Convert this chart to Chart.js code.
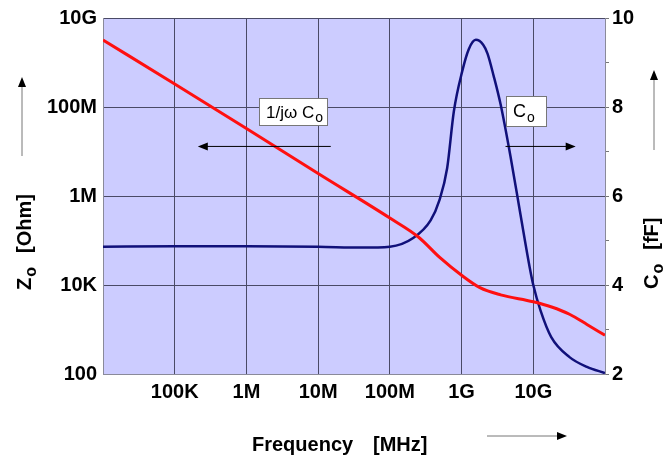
<!DOCTYPE html>
<html lang="en">
<head>
    <meta charset="UTF-8">
    <title>Zo and Co vs frequency</title>
    <script src="https://cdn.jsdelivr.net/npm/chart.js"></script>
    <style>
        body { margin: 0; background: #fff; }
        #wrap { width: 666px; height: 459px; position: relative; }
    </style>
</head>
<body>
    <div id="wrap"><canvas id="zc-chart"></canvas></div>
    <script>
        // Frequency axis (MHz), log decades
        var freqTicks = [1e4, 1e5, 1e6, 1e7, 1e8, 1e9, 1e10, 1e11];
        var freqLabels = ['', '100K', '1M', '10M', '100M', '1G', '10G', ''];

        // Left axis: Zo [Ohm]
        var zTicks = [1e2, 1e4, 1e6, 1e8, 1e10];
        var zLabels = ['100', '10K', '1M', '100M', '10G'];

        // Right axis: Co [fF]
        var cTicks = [2, 3, 4, 5, 6, 7, 8, 9, 10];
        var cLabels = ['2', '', '4', '', '6', '', '8', '', '10'];

        // Red curve: impedance 1/jwCo
        var zFreq = [1e4, 1e5, 1e6, 1e7, 1e8, 2.5e8, 5e8, 1e9, 1.8e9, 3.5e9, 1e10, 1.8e10, 3.2e10, 5.6e10, 1e11];
        var zOhm = [3.2e9, 3.3e8, 3.3e7, 3.2e6, 3.2e5, 1.2e5, 4.1e4, 1.65e4, 8.7e3, 6.0e3, 4.2e3, 3.2e3, 2.2e3, 1.3e3, 740];

        // Blue curve: capacitance Co
        var cFreq = [1e4, 1e5, 1e6, 1e7, 4e7, 1e8, 2.14e8, 3.7e8, 4.9e8, 6.3e8, 7.8e8, 1.02e9, 1.26e9, 1.58e9,
                     2.0e9, 2.3e9, 2.8e9, 3.5e9, 4.8e9, 6.6e9, 8.9e9, 1e10, 1.26e10, 1.78e10, 3.2e10, 5.6e10, 1e11];
        var cFemto = [4.86, 4.87, 4.87, 4.86, 4.84, 4.86, 5.06, 5.45, 5.9, 6.63, 7.9, 8.8, 9.3, 9.51,
                      9.4, 9.2, 8.7, 8.06, 6.9, 5.6, 4.4, 4.0, 3.43, 2.83, 2.38, 2.16, 2.02];

        var FAM = "'Liberation Sans', Arial, sans-serif";
        var gridColor = '#4a4a66';
        var edgeColor = '#8a8a9a';

        function pairs(xs, ys) {
            return xs.map(function(x, i) { return { x: x, y: ys[i] }; });
        }

        function arrow(ctx, x1, y1, x2, y2) {
            var a = Math.atan2(y2 - y1, x2 - x1);
            ctx.beginPath();
            ctx.moveTo(x1, y1);
            ctx.lineTo(x2 - 8 * Math.cos(a), y2 - 8 * Math.sin(a));
            ctx.stroke();
            ctx.beginPath();
            ctx.moveTo(x2, y2);
            ctx.lineTo(x2 - 10 * Math.cos(a) + 4 * Math.sin(a), y2 - 10 * Math.sin(a) - 4 * Math.cos(a));
            ctx.lineTo(x2 - 10 * Math.cos(a) - 4 * Math.sin(a), y2 - 10 * Math.sin(a) + 4 * Math.cos(a));
            ctx.closePath();
            ctx.fill();
        }

        // text with a subscript part, drawn left to right from x
        function subText(ctx, x, y, main, sub, size, weight) {
            ctx.font = weight + ' ' + size + 'px ' + FAM;
            ctx.fillText(main, x, y);
            var w = ctx.measureText(main).width;
            ctx.font = weight + ' ' + Math.round(size * 0.8) + 'px ' + FAM;
            ctx.fillText(sub, x + w + 1, y + size * 0.25);
            return x + w + 1 + ctx.measureText(sub).width;
        }

        var plotBg = {
            id: 'plotBg',
            beforeDraw: function(chart) {
                var a = chart.chartArea, ctx = chart.ctx;
                ctx.save();
                ctx.fillStyle = '#ccccff';
                ctx.fillRect(a.left, a.top, a.right - a.left, a.bottom - a.top);
                ctx.restore();
            }
        };

        var notes = {
            id: 'notes',
            afterDatasetsDraw: function(chart) {
                var ctx = chart.ctx;
                var xs = chart.scales.x, ys = chart.scales.y;
                ctx.save();
                ctx.strokeStyle = '#000';
                ctx.fillStyle = '#000';
                ctx.lineWidth = 1;

                // arrows pointing at each curve's axis
                arrow(ctx, xs.getPixelForValue(1.5e7), ys.getPixelForValue(1.3e7),
                           xs.getPixelForValue(2.1e5), ys.getPixelForValue(1.3e7));
                arrow(ctx, xs.getPixelForValue(4.1e9), ys.getPixelForValue(1.3e7),
                           xs.getPixelForValue(3.9e10), ys.getPixelForValue(1.3e7));

                // label boxes
                ctx.textBaseline = 'alphabetic';
                ctx.textAlign = 'left';
                ctx.fillStyle = '#fff';
                ctx.strokeStyle = '#777';
                ctx.fillRect(259.5, 98.5, 68, 27);
                ctx.strokeRect(259.5, 98.5, 68, 27);
                ctx.fillRect(506.5, 96.5, 40, 30);
                ctx.strokeRect(506.5, 96.5, 40, 30);
                ctx.fillStyle = '#000';
                subText(ctx, 266, 118, '1/j\u03c9 C', 'o', 17, 'normal');
                subText(ctx, 513, 117, 'C', 'o', 18, 'normal');

                // axis titles
                ctx.font = 'bold 20px ' + FAM;
                ctx.fillText('Frequency', 252, 451);
                ctx.fillText('[MHz]', 373, 451);
                arrow(ctx, 487, 436, 567, 436);

                ctx.save();
                ctx.translate(31, 290);
                ctx.rotate(-Math.PI / 2);
                var e = subText(ctx, 0, 0, 'Z', 'o', 20, 'bold');
                ctx.font = 'bold 20px ' + FAM;
                ctx.fillText('[Ohm]', e + 14, 0);
                ctx.restore();
                arrow(ctx, 22, 156, 22, 77);

                ctx.save();
                ctx.translate(658, 289);
                ctx.rotate(-Math.PI / 2);
                e = subText(ctx, 0, 0, 'C', 'o', 20, 'bold');
                ctx.font = 'bold 20px ' + FAM;
                ctx.fillText('[fF]', e + 14, 0);
                ctx.restore();
                arrow(ctx, 654, 150, 654, 70);
                ctx.restore();
            }
        };

        var ctx = document.getElementById('zc-chart').getContext('2d');
        var chart = new Chart(ctx, {
            type: 'line',
            data: {
                datasets: [{
                    label: 'Zo',
                    data: pairs(zFreq, zOhm),
                    yAxisID: 'y',
                    borderColor: '#ff1010',
                    borderWidth: 3,
                    pointRadius: 0,
                    cubicInterpolationMode: 'monotone'
                }, {
                    label: 'Co',
                    data: pairs(cFreq, cFemto),
                    yAxisID: 'y2',
                    borderColor: '#10107a',
                    borderWidth: 2.5,
                    pointRadius: 0,
                    cubicInterpolationMode: 'monotone'
                }]
            },
            options: {
                responsive: true,
                maintainAspectRatio: false,
                animation: false,
                layout: { padding: { left: 45, right: 0, top: 16, bottom: 40 } },
                plugins: { legend: { display: false }, tooltip: { enabled: false } },
                scales: {
                    x: {
                        type: 'logarithmic',
                        min: 1e4,
                        max: 1e11,
                        afterBuildTicks: function(axis) {
                            axis.ticks = freqTicks.map(function(v) { return { value: v }; });
                        },
                        afterFit: function(axis) { axis.height = 45; },
                        ticks: {
                            autoSkip: false,
                            maxRotation: 0,
                            padding: 6,
                            color: '#000',
                            font: { family: FAM, size: 20, weight: 'bold' },
                            callback: function(v, i) { return freqLabels[i]; }
                        },
                        grid: { color: gridColor, drawTicks: false },
                        border: { color: edgeColor }
                    },
                    y: {
                        type: 'logarithmic',
                        position: 'left',
                        min: 1e2,
                        max: 1e10,
                        afterBuildTicks: function(axis) {
                            axis.ticks = zTicks.map(function(v) { return { value: v }; });
                        },
                        afterFit: function(axis) { axis.width = 58; },
                        ticks: {
                            autoSkip: false,
                            padding: 6,
                            color: '#000',
                            font: { family: FAM, size: 20, weight: 'bold' },
                            callback: function(v, i) { return zLabels[i]; }
                        },
                        grid: { color: gridColor, drawTicks: false },
                        border: { color: edgeColor }
                    },
                    y2: {
                        type: 'linear',
                        position: 'right',
                        min: 2,
                        max: 10,
                        afterBuildTicks: function(axis) {
                            axis.ticks = cTicks.map(function(v) { return { value: v }; });
                        },
                        afterFit: function(axis) { axis.width = 61; },
                        ticks: {
                            autoSkip: false,
                            padding: 3,
                            color: '#000',
                            font: { family: FAM, size: 20, weight: 'bold' },
                            callback: function(v, i) { return cLabels[i]; }
                        },
                        grid: { drawOnChartArea: false, color: '#777', tickLength: 4 },
                        border: { color: edgeColor }
                    }
                }
            },
            plugins: [plotBg, notes]
        });
    </script>
</body>
</html>
